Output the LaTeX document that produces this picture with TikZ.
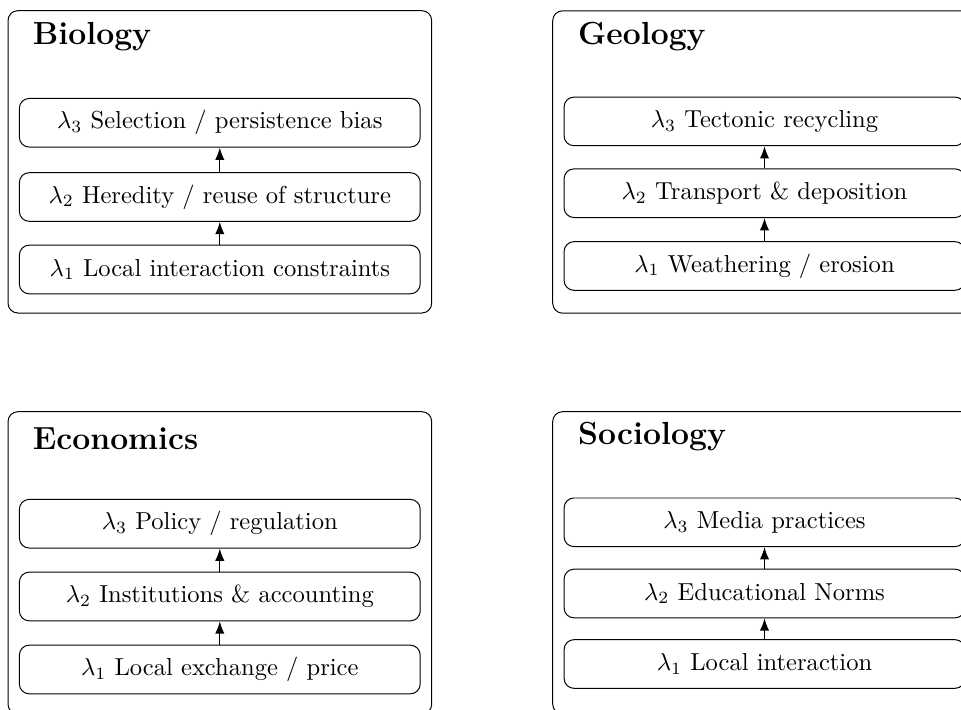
\documentclass[tikz,border=0pt]{standalone}
\usetikzlibrary{arrows.meta}
\begin{document}
\begin{tikzpicture}[x=0.40717pt,y=-0.40717pt,
  panel/.style={draw, rounded corners=4pt, minimum width=172.5pt, minimum height=123.1pt, inner sep=0pt, outer sep=0pt},
  layer/.style={draw, rounded corners=4pt, minimum width=163.2pt, minimum height=19.8pt, inner sep=2pt, font=\fontsize{10}{12}\selectfont},
  paneltitle/.style={anchor=base west, inner sep=0pt, font=\fontsize{13}{15}\selectfont\bfseries},
  up/.style={line width=0.5pt, -{Latex[length=5pt,width=3.8pt]}}]
\useasboundingbox (0,0) rectangle (961,709);

% Biology
\node[panel] (bio) at (219.85,161.85) {};
\node[paneltitle] (biot) at (32.3,44.5) {Biology};
\node[layer] (bio3) at (219.8,122.75) {$\lambda_3$ Selection / persistence bias};
\node[layer] (bio2) at (219.8,197) {$\lambda_2$ Heredity / reuse of structure};
\node[layer] (bio1) at (219.8,269.5) {$\lambda_1$ Local interaction constraints};
\draw[up] (bio1) -- (bio2);
\draw[up] (bio2) -- (bio3);

% Geology
\node[panel] (geo) at (764.55,162) {};
\node[paneltitle] (geot) at (577.7,44.3) {Geology};
\node[layer] (geo3) at (764.5,121.4) {$\lambda_3$ Tectonic recycling};
\node[layer] (geo2) at (764.5,193.2) {$\lambda_2$ Transport \& deposition};
\node[layer] (geo1) at (764.5,266) {$\lambda_1$ Weathering / erosion};
\draw[up] (geo1) -- (geo2);
\draw[up] (geo2) -- (geo3);

% Economics
\node[panel] (eco) at (219.85,562.85) {};
\node[paneltitle] (ecot) at (32.3,449.3) {Economics};
\node[layer] (eco3) at (219.8,523.7) {$\lambda_3$ Policy / regulation};
\node[layer] (eco2) at (219.8,596.5) {$\lambda_2$ Institutions \& accounting};
\node[layer] (eco1) at (219.8,669.5) {$\lambda_1$ Local exchange / price};
\draw[up] (eco1) -- (eco2);
\draw[up] (eco2) -- (eco3);

% Sociology
\node[panel] (soc) at (764.55,562.85) {};
\node[paneltitle] (soct) at (577.7,444.3) {Sociology};
\node[layer] (soc3) at (764.5,522.3) {$\lambda_3$ Media practices};
\node[layer] (soc2) at (764.5,593.5) {$\lambda_2$ Educational Norms};
\node[layer] (soc1) at (764.5,664) {$\lambda_1$ Local interaction};
\draw[up] (soc1) -- (soc2);
\draw[up] (soc2) -- (soc3);
\end{tikzpicture}
\end{document}
